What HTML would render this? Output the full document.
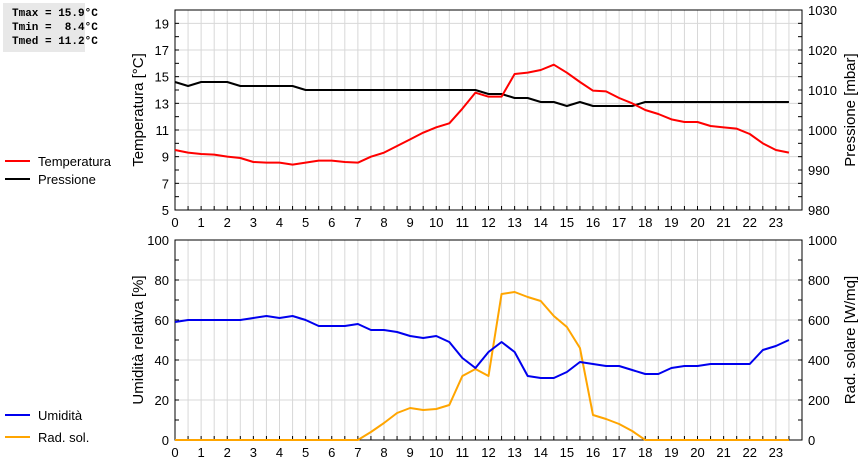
<!DOCTYPE html>
<html><head><meta charset="utf-8"><style>
body{margin:0;background:#fff;width:860px;height:460px;overflow:hidden;font-family:"Liberation Sans",sans-serif}
#box{position:absolute;left:3px;top:3px;width:82px;height:49px;background:#e8e8e8;font:bold 11px "Liberation Mono",monospace;line-height:14px;padding:4px 0 0 9px;box-sizing:border-box;white-space:pre}
</style></head><body>
<div id="box">Tmax = 15.9°C
Tmin =  8.4°C
Tmed = 11.2°C</div>
<svg id="c" width="860" height="460" style="position:absolute;left:0;top:0"></svg>
<script>
const hours=[0,0.5,1,1.5,2,2.5,3,3.5,4,4.5,5,5.5,6,6.5,7,7.5,8,8.5,9,9.5,10,10.5,11,11.5,12,12.5,13,13.5,14,14.5,15,15.5,16,16.5,17,17.5,18,18.5,19,19.5,20,20.5,21,21.5,22,22.5,23,23.5];
const temperature=[9.5,9.3,9.2,9.15,9.0,8.9,8.6,8.55,8.55,8.4,8.55,8.7,8.7,8.6,8.55,9.0,9.3,9.8,10.3,10.8,11.2,11.5,12.6,13.8,13.5,13.5,15.2,15.3,15.5,15.9,15.3,14.6,13.95,13.9,13.4,13.0,12.5,12.2,11.8,11.6,11.6,11.3,11.2,11.1,10.7,10.0,9.5,9.3];
const pressure=[1012,1011,1012,1012,1012,1011,1011,1011,1011,1011,1010,1010,1010,1010,1010,1010,1010,1010,1010,1010,1010,1010,1010,1010,1009,1009,1008,1008,1007,1007,1006,1007,1006,1006,1006,1006,1007,1007,1007,1007,1007,1007,1007,1007,1007,1007,1007,1007];
const humidity=[59,60,60,60,60,60,61,62,61,62,60,57,57,57,58,55,55,54,52,51,52,49,41,36,44,49,44,32,31,31,34,39,38,37,37,35,33,33,36,37,37,38,38,38,38,45,47,50];
const radiation=[0,0,0,0,0,0,0,0,0,0,0,0,0,0,0,40,85,135,160,150,155,175,320,355,320,730,740,715,695,620,565,460,125,105,80,45,0,0,0,0,0,0,0,0,0,0,0,0];
const xTicks=[0,1,2,3,4,5,6,7,8,9,10,11,12,13,14,15,16,17,18,19,20,21,22,23];
const tempTicks=[5,7,9,11,13,15,17,19];
const presTicks=[980,990,1000,1010,1020,1030];
const humTicks=[0,20,40,60,80,100];
const radTicks=[0,200,400,600,800,1000];

const svg=document.getElementById('c');const NS='http://www.w3.org/2000/svg';
const X0=175,X1=802;
const x=h=>X0+h*(X1-X0)/24;
function el(t,a,txt){const e=document.createElementNS(NS,t);for(const k in a)e.setAttribute(k,a[k]);if(txt!==undefined)e.textContent=txt;svg.appendChild(e);return e;}
function panel(top,bot,lmin,lmax,lstep,lticks,rmin,rmax,rticks,ltitle,rtitle,pre){
  const yl=v=>bot-(v-lmin)/(lmax-lmin)*(bot-top);
  const yr=v=>bot-(v-rmin)/(rmax-rmin)*(bot-top);
  for(let h=0.5;h<24;h+=0.5){const g=el('line',{x1:x(h),x2:x(h),y1:top,y2:bot,stroke:'#d8d8d8','stroke-width':1});
    }
  lticks.forEach(v=>{if(v>lmin&&v<lmax){const g=el('line',{x1:X0,x2:X1,y1:yl(v),y2:yl(v),stroke:'#d8d8d8','stroke-width':1});
    }});
  for(let v=lmin;v<=lmax;v+=lstep){el('line',{x1:X0,x2:X0+4,y1:yl(v),y2:yl(v),stroke:'#000'});el('line',{x1:X1-4,x2:X1,y1:yl(v),y2:yl(v),stroke:'#000'});}
  for(let h=0.5;h<24;h+=0.5){el('line',{x1:x(h),x2:x(h),y1:bot,y2:bot-4,stroke:'#000'});}
  const r=el('rect',{x:X0,y:top,width:X1-X0,height:bot-top,fill:'none',stroke:'#000','stroke-width':1});
  
  lticks.forEach(v=>{const t=el('text',{x:X0-6,y:yl(v)+5,'text-anchor':'end','font-size':13},v);
    });
  rticks.forEach(v=>{const t=el('text',{x:X1+6,y:yr(v)+5,'font-size':13},v);
    });
  xTicks.forEach(h=>{const t=el('text',{x:x(h),y:bot+17,'text-anchor':'middle','font-size':13},h);
    });
  const cy=(top+bot)/2;
  const a=el('text',{x:143,y:cy,'text-anchor':'middle','font-size':15,transform:`rotate(-90 143 ${cy})`},ltitle);
  
  const b=el('text',{x:855,y:cy,'text-anchor':'middle','font-size':15,transform:`rotate(-90 855 ${cy})`},rtitle);
  
  return [yl,yr];
}
function line(vals,yf,color,name){
  const p=el('polyline',{points:hours.map((h,i)=>x(h)+','+yf(vals[i])).join(' '),fill:'none',stroke:color,'stroke-width':2,'stroke-linejoin':'round'});
  
}
function legend(y,color,label,name){
  const l=el('line',{x1:5,x2:30,y1:y,y2:y,stroke:color,'stroke-width':2});
  
  const t=el('text',{x:38,y:y+5,'font-size':13},label);
  
}
const [yT,yP]=panel(10,210,5,20,1,tempTicks,980,1030,presTicks,'Temperatura [°C]','Pressione [mbar]','top');
const [yH,yR]=panel(240,440,0,100,10,humTicks,0,1000,radTicks,'Umidità relativa [%]','Rad. solare [W/mq]','bottom');
line(pressure,yP,'#000','pressure-line');
line(temperature,yT,'#f00','temperature-line');
line(radiation,yR,'#ffa500','radiation-line');
line(humidity,yH,'#0000ee','humidity-line');
legend(161,'#f00','Temperatura','legend-temperature');
legend(179,'#000','Pressione','legend-pressure');
legend(415,'#0000ee','Umidità','legend-humidity');
legend(437,'#ffa500','Rad. sol.','legend-radiation');
</script>
</body></html>
